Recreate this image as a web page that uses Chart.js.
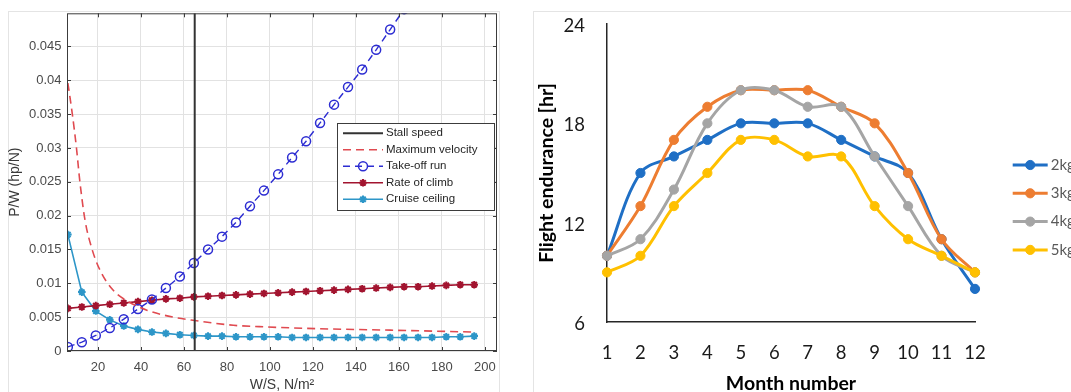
<!DOCTYPE html>
<html>
<head>
<meta charset="utf-8">
<script src="https://cdn.jsdelivr.net/npm/chart.js@4.4.1/dist/chart.umd.min.js"></script>
<style>
    html, body { margin: 0; padding: 0; background: #fff; overflow: hidden; }
    .frame { position: absolute; border: 1px solid #e4e4e4; }
    canvas { position: absolute; top: 0; }
</style>
</head>
<body>
<div class="frame" style="left:8px;top:11px;width:490px;height:400px"></div>
<div class="frame" style="left:533px;top:11px;width:600px;height:400px"></div>
<canvas id="left" width="515" height="392" style="left:0"></canvas>
<canvas id="right" width="560" height="392" style="left:520px"></canvas>
<script>

// left chart: P/W vs W/S
const wsTicks = [20, 40, 60, 80, 100, 120, 140, 160, 180, 200]
const pwTicks = [0, 0.005, 0.01, 0.015, 0.02, 0.025, 0.03, 0.035, 0.04, 0.045]

const stallWs = 65

const vmaxWs = [6, 8, 10, 11.6, 14, 17, 21, 27, 33, 43, 55, 65, 83, 95, 122, 153, 195]
const vmaxPw = [0.0396, 0.0352, 0.0300, 0.0250, 0.0193, 0.0153, 0.0119, 0.0090, 0.0075, 0.0060, 0.0050, 0.0045, 0.0038, 0.0036, 0.0033, 0.0031, 0.0028]

const ws = [6, 12.5, 19, 25.5, 32, 38.6, 45.1, 51.6, 58.1, 64.6, 71.2, 77.7, 84.2, 90.7, 97.2,
    103.8, 110.3, 116.8, 123.3, 129.8, 136.3, 142.9, 149.4, 155.9, 162.4, 168.9, 175.4, 182, 188.5, 195]
const takeoffPw = [0.0006, 0.0013, 0.0023, 0.0034, 0.0047, 0.0062, 0.0076, 0.0093, 0.0110, 0.0130,
    0.0150, 0.0169, 0.0190, 0.0214, 0.0237, 0.0261, 0.0286, 0.0310, 0.0337, 0.0364,
    0.0390, 0.0416, 0.0445, 0.0475, 0.0505, 0.0536, 0.0568, 0.0600, 0.0633, 0.0666]
const climbPw = [0.0063, 0.0065, 0.0067, 0.0069, 0.0071, 0.0073, 0.0075, 0.0077, 0.0078, 0.0080,
    0.0081, 0.0082, 0.0083, 0.0084, 0.0085, 0.0086, 0.0087, 0.0088, 0.0089, 0.0090,
    0.0091, 0.0092, 0.0093, 0.0094, 0.0095, 0.0095, 0.0096, 0.0097, 0.0098, 0.0098]
const cruisePw = [0.0172, 0.0087, 0.0059, 0.0046, 0.0037, 0.0032, 0.0028, 0.0026, 0.0024, 0.0023,
    0.0022, 0.0022, 0.0021, 0.0021, 0.0021, 0.0021, 0.0020, 0.0020, 0.0020, 0.0020,
    0.0020, 0.0020, 0.0020, 0.0020, 0.0020, 0.0020, 0.0020, 0.0021, 0.0021, 0.0022]

// right chart: flight endurance per month
const months = ['1', '2', '3', '4', '5', '6', '7', '8', '9', '10', '11', '12']
const hoursTicks = [6, 12, 18, 24]
const endurance2kg = [10, 15, 16, 17, 18, 18, 18, 17, 16, 15, 11, 8]
const endurance3kg = [10, 13, 17, 19, 20, 20, 20, 19, 18, 15, 11, 9]
const endurance4kg = [10, 11, 14, 18, 20, 20, 19, 19, 16, 13, 10, 9]
const endurance5kg = [9, 10, 13, 15, 17, 17, 16, 16, 13, 11, 10, 9]

const pwMax = 0.0499

const toPoints = (xs, ys) => xs.map((x, i) => ({ x: x, y: ys[i] }))

function drawMarker(ctx, ds, x, y) {
    if (!ds.pointRadius) return
    ctx.setLineDash([])
    ctx.strokeStyle = ds.pointBorderColor || ds.borderColor
    ctx.fillStyle = ds.pointBackgroundColor || ds.borderColor
    ctx.lineWidth = ds.pointBorderWidth || 1
    if (Chart.helpers && Chart.helpers.drawPoint) {
        Chart.helpers.drawPoint(ctx, {
            pointStyle: ds.pointStyle || 'circle',
            radius: ds.pointRadius,
            rotation: 0,
            borderWidth: ds.pointBorderWidth || 1
        }, x, y)
    } else {
        ctx.beginPath()
        ctx.arc(x, y, ds.pointRadius, 0, Math.PI * 2)
        ctx.fill()
        ctx.stroke()
    }
}

// legend with a line sample and the marker in its middle
const lineLegend = {
    id: 'lineLegend',
    afterDraw(chart, args, opts) {
        const ctx = chart.ctx
        ctx.save()
        if (opts.box) {
            const b = opts.box
            ctx.fillStyle = '#fff'
            ctx.fillRect(b.x, b.y, b.w, b.h)
            ctx.strokeStyle = '#3c3c3c'
            ctx.lineWidth = 1
            ctx.strokeRect(b.x + 0.5, b.y + 0.5, b.w, b.h)
        }
        chart.data.datasets.forEach((ds, i) => {
            const y = opts.top + i * opts.step
            ctx.strokeStyle = ds.borderColor
            ctx.lineWidth = ds.borderWidth
            ctx.setLineDash(ds.borderDash || [])
            ctx.beginPath()
            ctx.moveTo(opts.left, y)
            ctx.lineTo(opts.left + opts.lineLength, y)
            ctx.stroke()
            drawMarker(ctx, ds, opts.left + opts.lineLength / 2, y)
            ctx.fillStyle = opts.color
            ctx.font = opts.font
            ctx.textBaseline = 'middle'
            ctx.textAlign = 'left'
            ctx.fillText(ds.label, opts.left + opts.lineLength + opts.gap, y)
        })
        ctx.restore()
    }
}

// matlab style box with inward tick marks
const matlabBox = {
    id: 'matlabBox',
    afterDatasetsDraw(chart) {
        const { ctx, chartArea: a, scales } = chart
        ctx.save()
        ctx.strokeStyle = '#3c3c3c'
        ctx.lineWidth = 1
        ctx.strokeRect(a.left + 0.5, a.top + 0.5, a.right - a.left - 1, a.bottom - a.top - 1)
        ctx.beginPath()
        scales.x.ticks.forEach(t => {
            const px = Math.round(scales.x.getPixelForValue(t.value)) + 0.5
            ctx.moveTo(px, a.bottom); ctx.lineTo(px, a.bottom - 4)
            ctx.moveTo(px, a.top); ctx.lineTo(px, a.top + 4)
        })
        scales.y.ticks.forEach(t => {
            const py = Math.round(scales.y.getPixelForValue(t.value)) + 0.5
            ctx.moveTo(a.left, py); ctx.lineTo(a.left + 4, py)
            ctx.moveTo(a.right, py); ctx.lineTo(a.right - 4, py)
        })
        ctx.stroke()
        ctx.restore()
    }
}

const matlabFont = { family: 'Liberation Sans', size: 13 }

new Chart(document.getElementById('left'), {
    type: 'scatter',
    data: {
        datasets: [
            {
                label: 'Stall speed',
                data: toPoints([stallWs, stallWs], [0, pwMax]),
                showLine: true,
                borderColor: '#333333',
                borderWidth: 2,
                pointRadius: 0,
            },
            {
                label: 'Maximum velocity',
                data: toPoints(vmaxWs, vmaxPw),
                showLine: true,
                borderColor: '#e04a50',
                borderWidth: 1.6,
                borderDash: [8, 5],
                cubicInterpolationMode: 'monotone',
                pointRadius: 0,
            },
            {
                label: 'Take-off run',
                data: toPoints(ws, takeoffPw),
                showLine: true,
                borderColor: '#2d2dd2',
                borderWidth: 1.4,
                borderDash: [7, 5],
                pointStyle: 'circle',
                pointRadius: 4.5,
                pointBorderWidth: 1.5,
                pointBackgroundColor: 'rgba(255,255,255,0)',
            },
            {
                label: 'Rate of climb',
                data: toPoints(ws, climbPw),
                showLine: true,
                borderColor: '#a2142f',
                borderWidth: 1.6,
                pointStyle: 'star',
                pointRadius: 3.8,
                pointBorderWidth: 2,
            },
            {
                label: 'Cruise ceiling',
                data: toPoints(ws, cruisePw),
                showLine: true,
                borderColor: '#2d96c8',
                borderWidth: 1.6,
                pointStyle: 'star',
                pointRadius: 3.8,
                pointBorderWidth: 2,
            },
        ]
    },
    options: {
        responsive: false,
        animation: false,
        events: [],
        layout: { padding: { top: 11, right: 18, left: 0, bottom: 0 } },
        plugins: {
            legend: { display: false },
            tooltip: { enabled: false },
            lineLegend: {
                box: { x: 337, y: 123, w: 157, h: 87 },
                left: 343, top: 133.3, step: 16.5, lineLength: 40, gap: 3,
                font: '11.5px "Liberation Sans"', color: '#262626'
            }
        },
        scales: {
            x: {
                type: 'linear',
                min: 5.6,
                max: 205.6,
                afterBuildTicks: s => { s.ticks = wsTicks.map(v => ({ value: v })) },
                afterFit: s => { s.height = 41 },
                grid: { color: '#e2e2e2', drawTicks: false },
                border: { display: false },
                ticks: { font: matlabFont, color: '#4a4a4a', padding: 9, maxRotation: 0 },
                title: {
                    display: true, text: 'W/S, N/m\u00b2', color: '#3a3a3a',
                    font: { family: 'Liberation Sans', size: 14 }, padding: { top: 0, bottom: -2 }
                }
            },
            y: {
                min: 0,
                max: pwMax,
                afterBuildTicks: s => { s.ticks = pwTicks.map(v => ({ value: v })) },
                afterFit: s => { s.width = 67 },
                grid: { color: '#e2e2e2', drawTicks: false },
                border: { display: false },
                ticks: {
                    font: matlabFont, color: '#4a4a4a', padding: 5.5,
                    callback: v => String(parseFloat(v.toFixed(4)))
                },
                title: {
                    display: true, text: 'P/W (hp/N)', color: '#3a3a3a',
                    font: { family: 'Liberation Sans', size: 14 }, padding: { top: 6.6, bottom: 0 }
                }
            }
        }
    },
    plugins: [matlabBox, lineLegend]
})

function enduranceSeries(label, values, color, order) {
    return {
        label: label,
        data: values,
        borderColor: color,
        backgroundColor: color,
        borderWidth: 3,
        pointRadius: 4.6,
        pointBorderWidth: 1,
        pointBackgroundColor: color,
        pointBorderColor: color,
        tension: 0.35,
        order: order,
    }
}

const excelFont = { family: 'Lato', size: 18.5 }

new Chart(document.getElementById('right'), {
    type: 'line',
    data: {
        labels: months,
        datasets: [
            enduranceSeries('2kg', endurance2kg, '#1f6fc5', 4),
            enduranceSeries('3kg', endurance3kg, '#ed7d31', 3),
            enduranceSeries('4kg', endurance4kg, '#a5a5a5', 2),
            enduranceSeries('5kg', endurance5kg, '#ffc000', 1),
        ]
    },
    options: {
        responsive: false,
        animation: false,
        events: [],
        layout: { padding: { top: 24, right: 105, left: 0, bottom: 0 } },
        plugins: {
            legend: { display: false },
            tooltip: { enabled: false },
            lineLegend: {
                left: 492.7, top: 165, step: 28.3, lineLength: 35, gap: 3,
                font: '15px Lato', color: '#595959'
            }
        },
        scales: {
            x: {
                offset: false,
                afterFit: s => { s.height = 70 },
                grid: { display: false, drawTicks: true, tickLength: 16 },
                border: { display: true, color: '#262626', width: 1.5 },
                ticks: { font: excelFont, color: '#1a1a1a', padding: 3.8, maxRotation: 0 },
                title: {
                    display: true, text: 'Month number', color: '#000',
                    font: { family: 'Lato', size: 19.5, weight: 'bold' }, padding: { top: 0, bottom: -3.2 }
                }
            },
            y: {
                min: 6,
                max: 24,
                afterBuildTicks: s => { s.ticks = hoursTicks.map(v => ({ value: v })) },
                afterFit: s => { s.width = 87 },
                grid: { display: false, drawTicks: true, tickLength: 20 },
                border: { display: true, color: '#262626', width: 1.5 },
                ticks: { font: excelFont, color: '#1a1a1a', padding: 2, labelOffset: 2 },
                title: {
                    display: true, text: 'Flight endurance [hr]', color: '#000',
                    font: { family: 'Lato', size: 19.5, weight: 'bold' }, padding: { top: 14.8, bottom: 0 }
                }
            }
        }
    },
    plugins: [lineLegend]
})
</script>
</body>
</html>
